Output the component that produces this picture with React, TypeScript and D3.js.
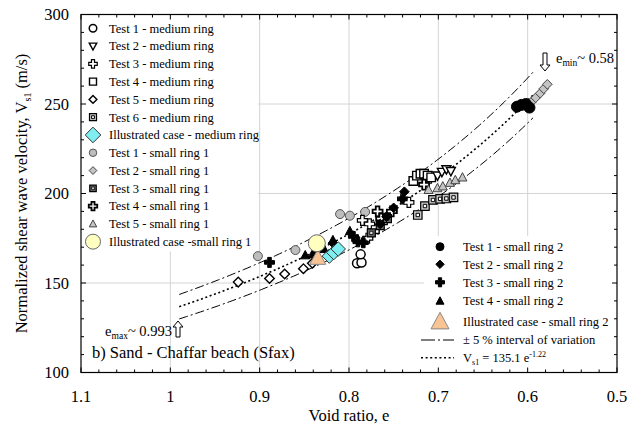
import React from "react";
import * as d3 from "d3";

// ---------- data (void ratio e, Vs1 m/s) ----------
const test1Medium = [[0.791, 161], [0.786, 161.5], [0.787, 166]];
const test2Medium = [[0.701, 210], [0.696, 212], [0.691, 213.5], [0.686, 212.5]];
const test3Medium = [[0.785, 185], [0.777, 183], [0.779, 175], [0.74, 197], [0.733, 195]];
const test4Medium = [[0.771, 180], [0.762, 185], [0.728, 207], [0.724, 210], [0.72, 211], [0.716, 211], [0.712, 210], [0.708, 209]];
const test5Medium = [[0.924, 150.5], [0.889, 152.5], [0.872, 155], [0.851, 158], [0.841, 161]];
const test6Medium = [[0.723, 188], [0.715, 193], [0.706, 196.4], [0.698, 197], [0.691, 197.2], [0.683, 197.8]];
const illusMedium = [[0.822, 165], [0.817, 167], [0.812, 169]];
const test1Small1 = [[0.902, 165], [0.86, 168.4], [0.835, 171.2], [0.81, 188.5], [0.799, 187.6], [0.782, 189.7]];
const test2Small1 = [[0.596, 251], [0.591, 253.5], [0.586, 256], [0.582, 258.5], [0.578, 261]];
const test3Small1 = [[0.775, 178], [0.765, 182], [0.757, 186]];
const test4Small1 = [[0.768, 190], [0.752, 190], [0.764, 186], [0.716, 205]];
const test5Small1 = [[0.711, 202], [0.701, 203], [0.695, 204], [0.687, 206], [0.681, 207.5], [0.673, 209]];
const illusSmall1 = [[0.836, 172.2]];
const test1Small2 = [[0.612, 248.5], [0.607, 249.5], [0.602, 250], [0.598, 248]];
const test2Small2 = [[0.818, 172.3], [0.765, 183], [0.758, 187], [0.75, 192], [0.74, 197], [0.738, 201]];
const test3Small2 = [[0.889, 161.5], [0.795, 176], [0.79, 173], [0.784, 172.5]];
const test4Small2 = [[0.849, 165.5], [0.841, 166], [0.838, 167.5], [0.828, 169], [0.818, 174], [0.799, 179]];
const illusSmall2 = [[0.835, 164]];

const xTicks = [1.1, 1, 0.9, 0.8, 0.7, 0.6, 0.5];
const yTicks = [100, 150, 200, 250, 300];
const xGrid = [1, 0.9, 0.8, 0.7, 0.6];
const yGrid = [150, 200, 250];

const fitA = 135.1;
const fitB = -1.22;
const band = 0.05;
const eRange = [0.99, 0.594];

// ---------- layout ----------
const W = 642, H = 426;
const L = 81, R = 617, T = 14.5, B = 372.5;
const x = d3.scaleLinear().domain([1.1, 0.5]).range([L, R]);
const y = d3.scaleLinear().domain([100, 300]).range([B, T]);
const FONT = "'Liberation Serif', 'Times New Roman', serif";

type Kind =
  | "circleOpen" | "triDownOpen" | "plusOpen" | "squareOpen" | "diamondOpen" | "squareInner"
  | "diamondCyan" | "circleGray" | "diamondGray" | "squareDark" | "plusBold" | "triGray"
  | "circleYellow" | "circleBlack" | "diamondBlack" | "plusBlack" | "triBlack" | "triPeach";

function shapePath(shape: string, s: number): string {
  const h = s / 2;
  switch (shape) {
    case "circle":
      return d3.symbol(d3.symbolCircle, Math.PI * h * h)()!;
    case "square":
      return `M${-h},${-h}H${h}V${h}H${-h}Z`;
    case "diamond": {
      const d = h * 1.2;
      return `M0,${-d}L${d},0L0,${d}L${-d},0Z`;
    }
    case "triUp":
      return `M0,${-h * 1.05}L${h},${h * 0.8}L${-h},${h * 0.8}Z`;
    case "triDown":
      return `M0,${h * 1.05}L${h},${-h * 0.8}L${-h},${-h * 0.8}Z`;
    case "plus": {
      const a = h * 0.36;
      return `M${-a},${-h}H${a}V${-a}H${h}V${a}H${a}V${h}H${-a}V${a}H${-h}V${-a}H${-a}Z`;
    }
  }
  return "";
}

function Marker({ kind, cx, cy, size = 9 }: { kind: Kind; cx: number; cy: number; size?: number }) {
  const t = `translate(${cx},${cy})`;
  const P = (shape: string, s: number, fill: string, stroke: string, sw = 1.3) => (
    <path d={shapePath(shape, s)} fill={fill} stroke={stroke} strokeWidth={sw} />
  );
  let el: React.ReactNode = null;
  switch (kind) {
    case "circleOpen": el = P("circle", size, "#fff", "#000", 1.5); break;
    case "triDownOpen": el = P("triDown", size, "#fff", "#000", 1.4); break;
    case "plusOpen": el = P("plus", size + 1, "#fff", "#000", 1.2); break;
    case "squareOpen": el = P("square", size - 0.5, "#fff", "#000", 1.4); break;
    case "diamondOpen": el = P("diamond", size - 1, "#fff", "#000", 1.4); break;
    case "squareInner":
      el = (<g>{P("square", size - 0.5, "#c8c8c8", "#000", 1.2)}{P("square", size * 0.38, "#fff", "#000", 1)}</g>);
      break;
    case "diamondCyan": el = P("diamond", size, "#80eef0", "#333", 1); break;
    case "circleGray": el = P("circle", size, "#bdbdbd", "#555", 1); break;
    case "diamondGray": el = P("diamond", size - 1, "#c4c4c4", "#444", 1); break;
    case "squareDark":
      el = (<g>{P("square", size - 1, "#666", "#000", 1.2)}{P("square", size * 0.36, "#ddd", "#000", 0.8)}</g>);
      break;
    case "plusBold": el = P("plus", size + 1, "#fff", "#000", 1.8); break;
    case "triGray": el = P("triUp", size, "#c4c4c4", "#444", 1); break;
    case "circleYellow": el = P("circle", size, "#ffffc0", "#666", 1); break;
    case "circleBlack": el = P("circle", size, "#000", "#000", 1); break;
    case "diamondBlack": el = P("diamond", size - 1, "#000", "#000", 1); break;
    case "plusBlack": el = P("plus", size + 1, "#000", "#000", 1); break;
    case "triBlack": el = P("triUp", size, "#000", "#000", 1); break;
    case "triPeach": el = P("triUp", size, "#f8c494", "#888", 1); break;
  }
  return <g transform={t}>{el}</g>;
}

const seriesList: { name: string; kind: Kind; data: number[][]; size?: number; legendSize?: number }[] = [
  { name: "Test 1 - medium ring", kind: "circleOpen", data: test1Medium },
  { name: "Test 2 - medium ring", kind: "triDownOpen", data: test2Medium },
  { name: "Test 3 - medium ring", kind: "plusOpen", data: test3Medium },
  { name: "Test 4 - medium ring", kind: "squareOpen", data: test4Medium },
  { name: "Test 5 - medium ring", kind: "diamondOpen", data: test5Medium },
  { name: "Test 6 - medium ring", kind: "squareInner", data: test6Medium },
  { name: "Illustrated case - medium ring", kind: "diamondCyan", data: illusMedium, size: 12, legendSize: 13 },
  { name: "Test 1 - small ring 1", kind: "circleGray", data: test1Small1 },
  { name: "Test 2 - small ring 1", kind: "diamondGray", data: test2Small1 },
  { name: "Test 3 - small ring 1", kind: "squareDark", data: test3Small1 },
  { name: "Test 4 - small ring 1", kind: "plusBold", data: test4Small1 },
  { name: "Test 5 - small ring 1", kind: "triGray", data: test5Small1 },
  { name: "Illustrated case -small ring 1", kind: "circleYellow", data: illusSmall1, size: 17, legendSize: 15 },
  { name: "Test 1 - small ring 2", kind: "circleBlack", data: test1Small2, size: 11 },
  { name: "Test 2 - small ring 2", kind: "diamondBlack", data: test2Small2 },
  { name: "Test 3 - small ring 2", kind: "plusBlack", data: test3Small2 },
  { name: "Test 4 - small ring 2", kind: "triBlack", data: test4Small2 },
  { name: "Illustrated case - small ring 2", kind: "triPeach", data: illusSmall2, size: 16, legendSize: 18 },
];

// draw order: medium/small1 first, then illustrated ones on top
const drawOrder = [4, 0, 7, 3, 2, 10, 9, 5, 1, 11, 8, 13, 15, 14, 16, 17, 12, 6];

function Arrow({ cx, tip, len, dir }: { cx: number; tip: number; len: number; dir: 1 | -1 }) {
  const s = dir;
  const hw = 5, sw = 2, hl = 6;
  const pts = [
    [cx, tip], [cx + hw, tip + s * hl], [cx + sw, tip + s * hl], [cx + sw, tip + s * len],
    [cx - sw, tip + s * len], [cx - sw, tip + s * hl], [cx - hw, tip + s * hl],
  ];
  return <polygon points={pts.map((p) => p.join(",")).join(" ")} fill="#fff" stroke="#000" strokeWidth={1} />;
}

export default function App() {
  const es = d3.range(eRange[0], eRange[1] - 0.0001, -0.004).concat([eRange[1]]);
  const line = d3.line<number>().x((e) => x(e)).y((e) => y(fitA * Math.pow(e, fitB)));
  const lineHi = d3.line<number>().x((e) => x(e)).y((e) => y((1 + band) * fitA * Math.pow(e, fitB)));
  const lineLo = d3.line<number>().x((e) => x(e)).y((e) => y((1 - band) * fitA * Math.pow(e, fitB)));

  const xMinor = d3.range(0, 31).map((i) => 1.1 - i * 0.02);
  const yMinor = d3.range(0, 21).map((i) => 100 + i * 10);

  const leg1 = seriesList.slice(0, 13);
  const leg2 = seriesList.slice(13);
  const leg2Y = [246.7, 264.3, 282.3, 301, 321.7];

  return (
    <svg width={W} height={H} style={{ position: "absolute", left: 0, top: 0, background: "#fff" }} fontFamily={FONT}>
      <rect x={0} y={0} width={W} height={H} fill="#fff" />
      {xGrid.map((v) => (
        <line key={"gx" + v} x1={x(v)} x2={x(v)} y1={T} y2={B} stroke="#d4d4d4" strokeWidth={1} />
      ))}
      {yGrid.map((v) => (
        <line key={"gy" + v} x1={L} x2={R} y1={y(v)} y2={y(v)} stroke="#d4d4d4" strokeWidth={1} />
      ))}
      <rect x={L + 1} y={T + 1} width={176} height={236} fill="#fff" />
      <rect x={424} y={236} width={R - 424 - 1} height={B - 236 - 1} fill="#fff" />

      <path d={lineHi(es)!} fill="none" stroke="#000" strokeWidth={1} strokeDasharray="9,3,2,3" />
      <path d={lineLo(es)!} fill="none" stroke="#000" strokeWidth={1} strokeDasharray="9,3,2,3" />
      <path d={line(es)!} fill="none" stroke="#000" strokeWidth={1.6} strokeDasharray="2,2.6" />

      {drawOrder.map((si) => {
        const s = seriesList[si];
        return (
          <g key={"s" + si}>
            {s.data.map((d, i) => (
              <Marker key={i} kind={s.kind} cx={x(d[0])} cy={y(d[1])} size={s.size ?? 9} />
            ))}
          </g>
        );
      })}

      <rect x={L} y={T} width={R - L} height={B - T} fill="none" stroke="#000" strokeWidth={1.2} />
      {xMinor.map((v, i) => {
        const len = i % 5 === 0 ? 5 : 3;
        return (
          <g key={"xt" + i}>
            <line x1={x(v)} x2={x(v)} y1={B} y2={B - len} stroke="#000" />
            <line x1={x(v)} x2={x(v)} y1={T} y2={T + len} stroke="#000" />
          </g>
        );
      })}
      {yMinor.map((v, i) => {
        const len = i % 5 === 0 ? 5 : 3;
        return (
          <g key={"yt" + i}>
            <line x1={L} x2={L + len} y1={y(v)} y2={y(v)} stroke="#000" />
            <line x1={R} x2={R - len} y1={y(v)} y2={y(v)} stroke="#000" />
          </g>
        );
      })}
      {xTicks.map((v) => (
        <text key={"xl" + v} x={x(v)} y={402} textAnchor="middle" fontSize={16.5}>
          {String(v)}
        </text>
      ))}
      {yTicks.map((v) => (
        <text key={"yl" + v} x={69} y={y(v) + 5.5} textAnchor="end" fontSize={16.5}>
          {v}
        </text>
      ))}
      <text x={(L + R) / 2} y={421} textAnchor="middle" fontSize={16.5}>Void ratio, e</text>
      <text transform={`translate(27,${(T + B) / 2}) rotate(-90)`} textAnchor="middle" fontSize={16.5}>
        Normalized shear wave velocity, V<tspan fontSize={10} dy={4}>s1</tspan><tspan dy={-4}> (m/s)</tspan>
      </text>

      {leg1.map((s, i) => {
        const ly = 28.3 + i * 17.78;
        return (
          <g key={"l1" + i}>
            <Marker kind={s.kind} cx={93} cy={ly} size={s.legendSize ?? 7.5} />
            <text x={109} y={ly + 4.3} fontSize={12.5}>{s.name}</text>
          </g>
        );
      })}
      {leg2.map((s, i) => (
        <g key={"l2" + i}>
          <Marker kind={s.kind} cx={440} cy={leg2Y[i]} size={s.legendSize ?? 8} />
          <text x={463} y={leg2Y[i] + 4.3} fontSize={12.5}>{s.name}</text>
        </g>
      ))}
      <line x1={421} x2={454} y1={340} y2={340} stroke="#000" strokeDasharray="14,3,2,3" />
      <text x={463} y={344.3} fontSize={12.5}>± 5 % interval of variation</text>
      <line x1={421} x2={454} y1={357.7} y2={357.7} stroke="#000" strokeWidth={1.6} strokeDasharray="2,2.6" />
      <text x={463} y={362} fontSize={12.5}>
        V<tspan fontSize={8} dy={3}>s1</tspan><tspan dy={-3}> = 135.1 e</tspan><tspan fontSize={8} dy={-5}>-1.22</tspan>
      </text>

      <Arrow cx={178} tip={321} len={16} dir={1} />
      <text x={172} y={336} textAnchor="end" fontSize={14.5}>
        e<tspan fontSize={9.5} dy={3}>max</tspan><tspan dy={-3}>~ 0.993</tspan>
      </text>
      <Arrow cx={545} tip={71} len={18} dir={-1} />
      <text x={556} y={63} fontSize={14.5}>
        e<tspan fontSize={9.5} dy={3}>min</tspan><tspan dy={-3}>~ 0.58</tspan>
      </text>
      <text x={92} y={358} fontSize={16.5}>b) Sand - Chaffar beach (Sfax)</text>
    </svg>
  );
}
